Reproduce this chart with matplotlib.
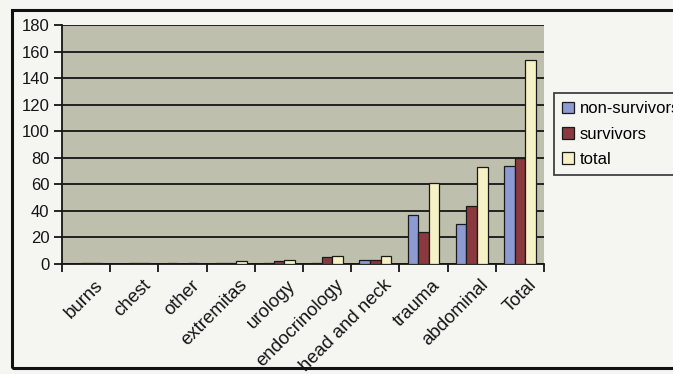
import matplotlib

matplotlib.use("Agg")
import matplotlib.pyplot as plt
import matplotlib.transforms as mtransforms
from matplotlib.patches import Patch, Rectangle
import numpy as np

plt.rcParams["font.family"] = ["Liberation Sans", "DejaVu Sans"]

categories = ["burns", "chest", "other", "extremitas", "urology",
              "endocrinology", "head and neck", "trauma", "abdominal", "Total"]
non_survivors = [0, 0, 1, 1, 1, 1, 3, 37, 30, 74]
survivors = [1, 1, 0, 1, 2, 5, 3, 24, 44, 80]
total = [1, 1, 1, 2, 3, 6, 6, 61, 73, 154]
y_ticks = list(range(0, 181, 20))

BLUE = "#8e9bd2"
MAROON = "#8a3a3e"
CREAM = "#f6f1c6"
PLOT_BG = "#bec0ad"
PAPER = "#f5f5f2"

W, H = 673, 374
fig = plt.figure(figsize=(W / 100, H / 100), dpi=100)
fig.patch.set_facecolor(PAPER)

# outer frame around the chart
fig.add_artist(Rectangle((12 / W, 1 - 368 / H), (690 - 12) / W, (368 - 10) / H,
                         transform=fig.transFigure, fill=False,
                         edgecolor="#111111", linewidth=2.2))

ax = fig.add_axes([62 / W, 1 - 264 / H, (544 - 62) / W, (264 - 25) / H])
ax.set_facecolor(PLOT_BG)

x = np.arange(len(categories))
w = 0.22
kw = dict(edgecolor="#1a1a1a", linewidth=0.9, zorder=3)
ax.bar(x - w, non_survivors, w, color=BLUE, **kw)
ax.bar(x, survivors, w, color=MAROON, **kw)
ax.bar(x + w, total, w, color=CREAM, **kw)

ax.set_xlim(-0.5, len(categories) - 0.5)
ax.set_ylim(0, 180)
ax.set_yticks(y_ticks)
ax.yaxis.grid(True, color="#151515", linewidth=1.3, zorder=1)
ax.set_axisbelow(True)

for side in ["top", "right"]:
    ax.spines[side].set_visible(False)
for side in ["left", "bottom"]:
    ax.spines[side].set_color("#151515")
    ax.spines[side].set_linewidth(1.3)

ax.tick_params(axis="y", length=6, width=1.3, pad=3, labelsize=12, colors="#151515")
ax.set_xticks(x)
ax.set_xticks(np.arange(len(categories) + 1) - 0.5, minor=True)
ax.tick_params(axis="x", which="minor", length=6, width=1.3, color="#151515")
ax.tick_params(axis="x", which="major", length=0, pad=9)
ax.set_xticklabels(categories, rotation=45, ha="right", va="top",
                   rotation_mode="anchor", fontsize=13.4, color="#151515")
# shift the slanted labels so their ends sit right of the category centre
offset = mtransforms.ScaledTranslation(0.08, 0, fig.dpi_scale_trans)
for lab in ax.get_xticklabels():
    lab.set_transform(lab.get_transform() + offset)

handles = [Patch(facecolor=c, edgecolor="#1a1a1a", linewidth=0.9)
           for c in (BLUE, MAROON, CREAM)]
leg = fig.legend(handles, ["non-survivors", "survivors", "total"],
                 loc="upper left", bbox_to_anchor=(554 / W, 1 - 93 / H),
                 fontsize=12, frameon=True, fancybox=False,
                 handlelength=0.7, handleheight=0.7, handletextpad=0.35,
                 labelspacing=0.62, borderpad=0.5, borderaxespad=0)
leg.get_frame().set_edgecolor("#151515")
leg.get_frame().set_linewidth(1.3)
leg.get_frame().set_facecolor(PAPER)

fig.savefig("out.png", dpi=100, facecolor=fig.get_facecolor())
